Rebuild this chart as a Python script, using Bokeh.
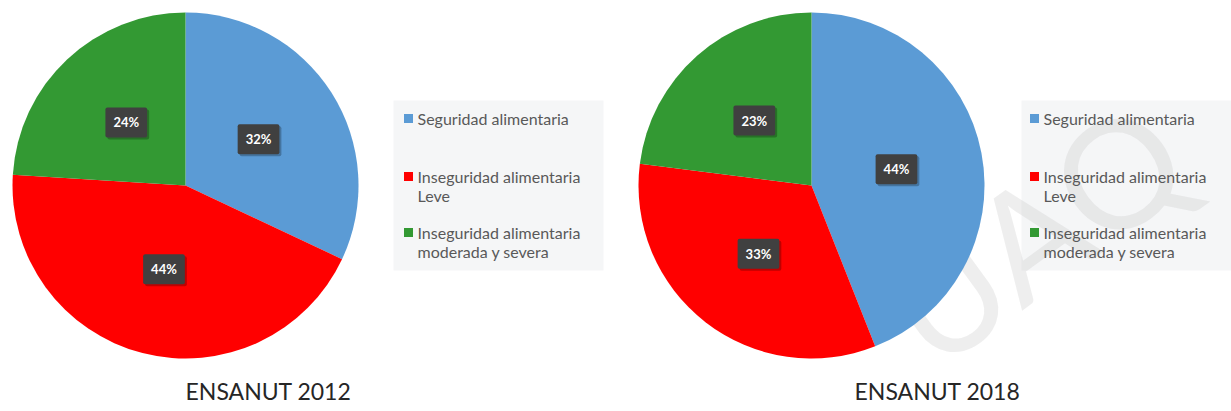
import math
from bokeh.plotting import figure
from bokeh.models import Range1d
from bokeh.embed import file_html
from bokeh.resources import INLINE
from bokeh.core.properties import value

# ---------------- data ----------------
categories = ["Seguridad alimentaria",
              "Inseguridad alimentaria\nLeve",
              "Inseguridad alimentaria\nmoderada y severa"]
colors = ["#5B9BD5", "#FF0000", "#339933"]
titles = ["ENSANUT 2012", "ENSANUT 2018"]
values_2012 = [32, 44, 24]
values_2018 = [44, 33, 23]

# ---------------- layout (image pixel coordinates) ----------------
W, H = 1231, 411
p = figure(width=W, height=H, x_range=Range1d(0, W), y_range=Range1d(-H, 0),
           output_backend="svg", toolbar_location=None, min_border=0,
           x_axis_location=None, y_axis_location=None)
p.grid.visible = False
p.outline_line_color = None
p.background_fill_color = "white"
p.border_fill_color = "white"

FONT = value("Lato")
R = 173
pies = [
    dict(vals=values_2012, cx=185, cy=185, title=titles[0], tx=268, leg_left=393, leg_right=603),
    dict(vals=values_2018, cx=811, cy=185, title=titles[1], tx=937, leg_left=1021, leg_right=1240),
]
row_y = [118, 176, 232]

# legend boxes
for pie in pies:
    p.quad(left=[pie["leg_left"]], right=[pie["leg_right"]], top=[-100], bottom=[-270],
           fill_color="#f5f6f7", line_color=None)

# watermark (faint, behind the pies)
p.text(x=[900], y=[-327], text=["UAQ"], angle=[math.radians(36)],
       text_font=FONT, text_font_size="150px", text_color="#c8c8c8", text_alpha=0.3,
       text_align="left", text_baseline="alphabetic")

for pie in pies:
    vals = pie["vals"]
    cx, cy = pie["cx"], -pie["cy"]
    total = float(sum(vals))
    cum = 0.0
    starts, ends, mids = [], [], []
    for v in vals:
        f0 = cum / total
        cum += v
        f1 = cum / total
        starts.append(math.pi / 2 - 2 * math.pi * f0)
        ends.append(math.pi / 2 - 2 * math.pi * f1)
        mids.append(math.pi / 2 - 2 * math.pi * (f0 + f1) / 2)
    p.wedge(x=[cx] * len(vals), y=[cy] * len(vals), radius=R,
            start_angle=starts, end_angle=ends, direction="clock",
            fill_color=colors, line_color=None)

    # data labels
    lx = [cx + 0.5 * R * math.cos(a) for a in mids]
    ly = [cy + 0.5 * R * math.sin(a) for a in mids]
    labels = [f"{v}%" for v in vals]
    # shadow
    p.text(x=[x + 2 for x in lx], y=[y - 2 for y in ly], text=labels,
           text_font=FONT, text_font_size="13px", text_font_style="bold",
           text_color="white", text_alpha=0.0, text_align="center", text_baseline="middle",
           background_fill_color="#000000", background_fill_alpha=0.25,
           padding=(8, 7), border_radius=2)
    p.text(x=lx, y=ly, text=labels,
           text_font=FONT, text_font_size="13px", text_font_style="bold",
           text_color="white", text_align="center", text_baseline="middle",
           background_fill_color="#404040", padding=(8, 7), border_radius=2)

    # legend entries
    sq_x = cx + 223
    p.scatter(x=[sq_x] * len(categories), y=[-y for y in row_y], marker="square", size=9,
              fill_color=colors, line_color=None)
    tx, ty, tt = [], [], []
    for cat, ry in zip(categories, row_y):
        for k, line in enumerate(cat.split("\n")):
            tx.append(sq_x + 9)
            ty.append(-(ry + 19 * k))
            tt.append(line)
    p.text(x=tx, y=ty, text=tt, text_font=FONT, text_font_size="16px",
           text_color="#595959", text_align="left", text_baseline="middle")

    # title
    p.text(x=[pie["tx"]], y=[-390], text=[pie["title"]], text_font=FONT,
           text_font_size="23px", text_color="#262626", text_align="center",
           text_baseline="middle")

open("out.html", "w").write(file_html(p, INLINE))
